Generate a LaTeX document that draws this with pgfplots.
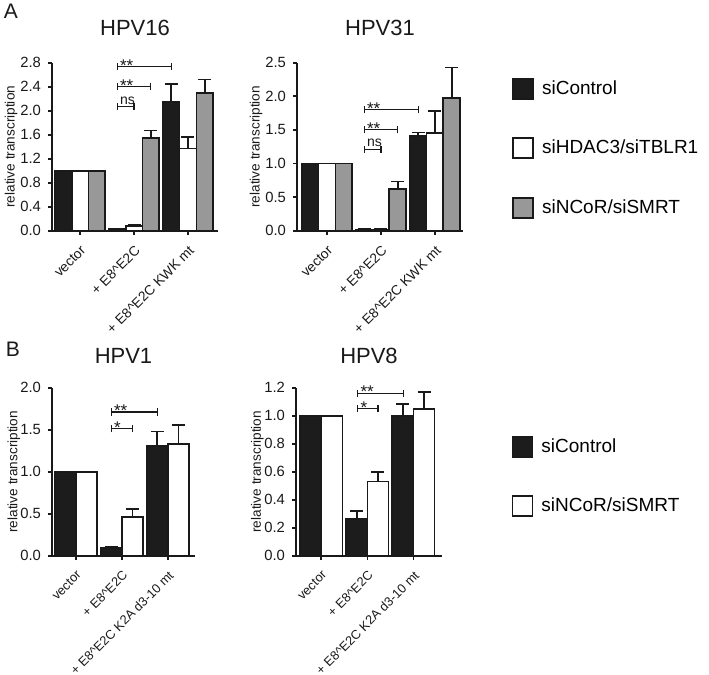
\documentclass[border=0pt]{standalone}
\usepackage{pgfplots}
\pgfplotsset{compat=1.18}
\usepackage{fontspec}
\setmainfont{Liberation Sans}
\definecolor{barblack}{RGB}{28,28,28}
\definecolor{bargray}{RGB}{152,152,152}
\definecolor{ink}{RGB}{25,25,25}

\newcommand{\sig}[6]{%
 \draw[ink, line width=0.6pt] ([yshift=-1.8pt]axis cs:#1,#3) -- ([yshift=1.8pt]axis cs:#1,#3);
 \draw[ink, line width=0.6pt] (axis cs:#1,#3) -- (axis cs:#2,#3);
 \draw[ink, line width=0.6pt] ([yshift=-1.8pt]axis cs:#2,#3) -- ([yshift=1.8pt]axis cs:#2,#3);
 \node[anchor=base west, inner sep=0pt, font=\fontsize{#6}{9}\selectfont, text=ink] at ([xshift=1.2pt,yshift=#5]axis cs:#1,#3) {#4};
}

\pgfplotsset{
 panel/.style={
  scale only axis, axis lines=left,
  axis line style={-, line width=0.85pt, ink},
  ymin=0, xtick={0,1,2}, clip=false,
  tick style={line width=0.85pt, ink}, major tick length=2pt, tick align=outside,
  yticklabel style={font=\fontsize{7.4}{8}\selectfont, text=ink,
    /pgf/number format/fixed, /pgf/number format/fixed zerofill,
    /pgf/number format/precision=1, /pgf/number format/assume math mode=true},
  xticklabel shift=3.5pt,
  xticklabel style={rotate=45, anchor=north east, inner sep=1pt, text=ink},
  ylabel={relative transcription},
  ylabel style={font=\fontsize{6.8}{8}\selectfont, text=ink, anchor=center},
  title style={font=\fontsize{11}{13}\selectfont, anchor=center, at={(0.5,1)}, text=ink},
  ybar,
  every axis plot/.append style={draw=ink, line width=0.85pt},
  error bars/y dir=plus, error bars/y explicit,
  error bars/error bar style={line width=0.85pt, ink},
  error bars/error mark options={rotate=90, line width=0.85pt, ink, mark size=3.25pt},
  legend image code/.code={\draw[#1, line width=0.85pt] (0pt,-5pt) rectangle (10pt,5pt);},
  legend cell align=left,
 }
}

\begin{document}
\begin{tikzpicture}
\useasboundingbox (0,0) rectangle (354.5pt,337.5pt);
\node[font=\fontsize{10.5}{12}\selectfont, text=ink] at (5.5pt,332pt) {A};
\node[font=\fontsize{10.5}{12}\selectfont, text=ink] at (6.5pt,163pt) {B};

% HPV16
\begin{axis}[panel, at={(26pt,222.15pt)}, anchor=south west,
  width=83pt, height=84pt, xmin=-0.52, xmax=2.556, ymax=2.8,
  ytick={0,0.4,0.8,1.2,1.6,2.0,2.4,2.8},
  xticklabels={vector, + E8\textasciicircum E2C, + E8\textasciicircum E2C KWK mt},
  xticklabel style={font=\fontsize{6.9}{8}\selectfont},
  ylabel style={at={(axis description cs:-0.247,0.5)}},
  title={HPV16}, title style={yshift=11.4pt},
  bar width=0.31]
\addplot[fill=barblack, bar shift=-0.31] coordinates {(0,1) +- (0,0) (1,0.03) +- (0,0.005) (2,2.14) +- (0,0.31)};
\addplot[fill=white, bar shift=0] coordinates {(0,1) +- (0,0) (1,0.08) +- (0,0.02) (2,1.37) +- (0,0.19)};
\addplot[fill=bargray, bar shift=0.31] coordinates {(0,1) +- (0,0) (1,1.54) +- (0,0.13) (2,2.30) +- (0,0.22)};
\sig{0.69}{1.0}{2.07}{ns}{1.2pt}{7}
\sig{0.69}{1.31}{2.40}{**}{-2.3pt}{8.5}
\sig{0.69}{1.69}{2.73}{**}{-2.3pt}{8.5}
\end{axis}

% HPV31
\begin{axis}[panel, at={(148.5pt,222.15pt)}, anchor=south west,
  width=83pt, height=84pt, xmin=-0.556, xmax=2.52, ymax=2.5,
  ytick={0,0.5,1.0,1.5,2.0,2.5},
  xticklabels={vector, + E8\textasciicircum E2C, + E8\textasciicircum E2C KWK mt},
  xticklabel style={font=\fontsize{6.9}{8}\selectfont},
  ylabel style={at={(axis description cs:-0.247,0.5)}},
  title={HPV31}, title style={yshift=11.4pt},
  bar width=0.31,
  legend style={draw=none, fill=none, at={(axis description cs:1.295,0.92)}, anchor=north west,
    font=\fontsize{9.5}{11}\selectfont, row sep=17.3pt, inner sep=0pt, column sep=2pt}]
\addplot[fill=barblack, bar shift=-0.31] coordinates {(0,1) +- (0,0) (1,0.02) +- (0,0.005) (2,1.41) +- (0,0.05)};
\addplot[fill=white, bar shift=0] coordinates {(0,1) +- (0,0) (1,0.02) +- (0,0.005) (2,1.45) +- (0,0.33)};
\addplot[fill=bargray, bar shift=0.31] coordinates {(0,1) +- (0,0) (1,0.62) +- (0,0.11) (2,1.97) +- (0,0.46)};
\legend{siControl, siHDAC3/siTBLR1, siNCoR/siSMRT}
\sig{0.69}{1.0}{1.21}{ns}{1.2pt}{7}
\sig{0.69}{1.31}{1.50}{**}{-2.3pt}{8.5}
\sig{0.69}{1.69}{1.80}{**}{-2.3pt}{8.5}
\end{axis}

% HPV1
\begin{axis}[panel, at={(26pt,59.65pt)}, anchor=south west,
  width=71.5pt, height=84pt, xmin=-0.52, xmax=2.59, ymax=2.0,
  ytick={0,0.5,1.0,1.5,2.0},
  xticklabels={vector, + E8\textasciicircum E2C, + E8\textasciicircum E2C K2A d3-10 mt},
  xticklabel style={font=\fontsize{6.4}{8}\selectfont},
  ylabel style={at={(axis description cs:-0.266,0.5)}},
  title={HPV1}, title style={yshift=9.9pt},
  bar width=0.46]
\addplot[fill=barblack, bar shift=-0.23] coordinates {(0,1) +- (0,0) (1,0.09) +- (0,0.01) (2,1.31) +- (0,0.17)};
\addplot[fill=white, bar shift=0.23] coordinates {(0,1) +- (0,0) (1,0.46) +- (0,0.10) (2,1.33) +- (0,0.23)};
\sig{0.77}{1.23}{1.51}{*}{-2.3pt}{8.5}
\sig{0.77}{1.77}{1.71}{**}{-2.3pt}{8.5}
\end{axis}

% HPV8
\begin{axis}[panel, at={(148pt,59.65pt)}, anchor=south west,
  width=73pt, height=84pt, xmin=-0.55, xmax=2.62, ymax=1.2,
  ytick={0,0.2,0.4,0.6,0.8,1.0,1.2},
  xticklabels={vector, + E8\textasciicircum E2C, + E8\textasciicircum E2C K2A d3-10 mt},
  xticklabel style={font=\fontsize{6.4}{8}\selectfont},
  ylabel style={at={(axis description cs:-0.264,0.5)}},
  title={HPV8}, title style={yshift=9.9pt},
  bar width=0.46,
  legend style={draw=none, fill=none, at={(axis description cs:1.475,0.725)}, anchor=north west,
    font=\fontsize{9.5}{11}\selectfont, row sep=17.3pt, inner sep=0pt, column sep=2pt}]
\addplot[fill=barblack, bar shift=-0.23] coordinates {(0,1) +- (0,0) (1,0.26) +- (0,0.06) (2,1.00) +- (0,0.085)};
\addplot[fill=white, bar shift=0.23] coordinates {(0,1) +- (0,0) (1,0.53) +- (0,0.07) (2,1.05) +- (0,0.12)};
\legend{siControl, siNCoR/siSMRT}
\sig{0.79}{1.23}{1.05}{*}{-2.3pt}{8.5}
\sig{0.79}{1.79}{1.16}{**}{-2.3pt}{8.5}
\end{axis}
\end{tikzpicture}
\end{document}
